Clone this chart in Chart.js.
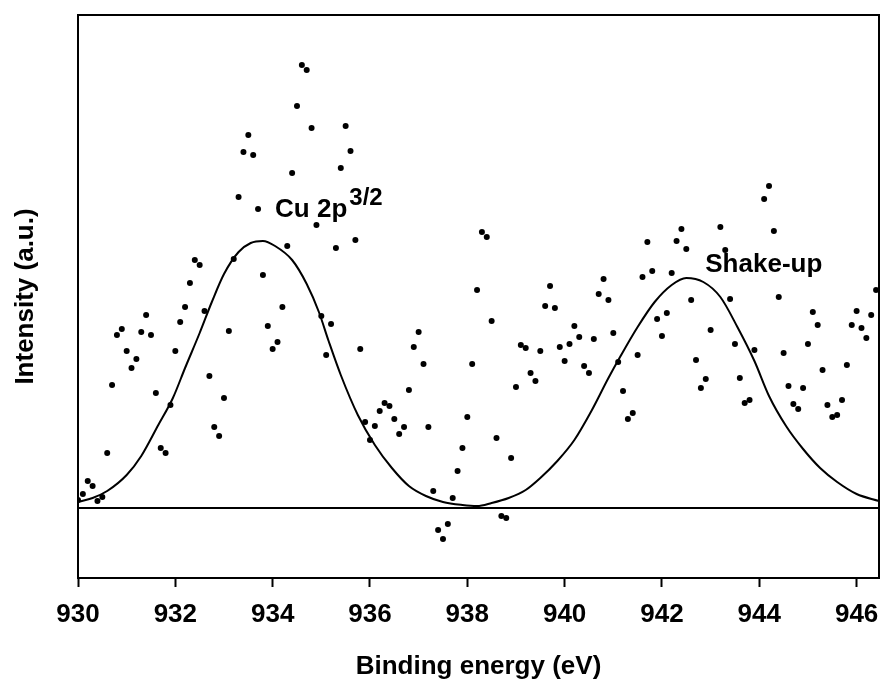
<!DOCTYPE html>
<html>
<head>
<meta charset="utf-8">
<script src="https://cdn.jsdelivr.net/npm/chart.js@4.4.0/dist/chart.umd.min.js"></script>
<style>
  body { margin: 0; background: #fff; }
  canvas { display: block; }
</style>
</head>
<body>
<canvas id="xps" width="880" height="684"></canvas>
<script>
/* measured spectrum (binding energy in eV, intensity in a.u.) */
const energy = [
  930.0, 930.1, 930.2, 930.3, 930.4, 930.5, 930.6, 930.7, 930.8, 930.9,
  931.0, 931.1, 931.2, 931.3, 931.4, 931.5, 931.6, 931.7, 931.8, 931.9,
  932.0, 932.1, 932.2, 932.3, 932.4, 932.5, 932.6, 932.7, 932.8, 932.9,
  933.0, 933.1, 933.2, 933.3, 933.4, 933.5, 933.6, 933.7, 933.8, 933.9,
  934.0, 934.1, 934.2, 934.3, 934.4, 934.5, 934.6, 934.7, 934.8, 934.9,
  935.0, 935.1, 935.2, 935.3, 935.4, 935.5, 935.6, 935.7, 935.8, 935.9,
  936.0, 936.1, 936.2, 936.3, 936.4, 936.5, 936.6, 936.7, 936.8, 936.9,
  937.0, 937.1, 937.2, 937.3, 937.4, 937.5, 937.6, 937.7, 937.8, 937.9,
  938.0, 938.1, 938.2, 938.3, 938.4, 938.5, 938.6, 938.7, 938.8, 938.9,
  939.0, 939.1, 939.2, 939.3, 939.4, 939.5, 939.6, 939.7, 939.8, 939.9,
  940.0, 940.1, 940.2, 940.3, 940.4, 940.5, 940.6, 940.7, 940.8, 940.9,
  941.0, 941.1, 941.2, 941.3, 941.4, 941.5, 941.6, 941.7, 941.8, 941.9,
  942.0, 942.1, 942.2, 942.3, 942.4, 942.5, 942.6, 942.7, 942.8, 942.9,
  943.0, 943.2, 943.3, 943.4, 943.5, 943.6, 943.7, 943.8, 943.9,
  944.1, 944.2, 944.3, 944.4, 944.5, 944.6, 944.7, 944.8, 944.9,
  945.0, 945.1, 945.2, 945.3, 945.4, 945.5, 945.6, 945.7, 945.8, 945.9,
  946.0, 946.1, 946.2, 946.3, 946.4, 946.5
];
const intensity = [
  8, 14, 27, 22, 7, 11, 55, 123, 173, 179,
  157, 140, 149, 176, 193, 173, 115, 60, 55, 103,
  157, 186, 201, 225, 248, 243, 197, 132, 81, 72,
  110, 177, 249, 311, 356, 373, 353, 299, 233, 182,
  159, 166, 201, 262, 335, 402, 443, 438, 380, 283,
  192, 153, 184, 260, 340, 382, 357, 268, 159, 86,
  68, 82, 97, 105, 102, 89, 74, 81, 118, 161,
  176, 144, 81, 17, -22, -31, -16, 10, 37, 60,
  91, 144, 218, 276, 271, 187, 70, -8, -10, 50,
  121, 163, 160, 135, 127, 157, 202, 222, 200, 161,
  147, 164, 182, 171, 142, 135, 169, 214, 229, 208,
  175, 146, 117, 89, 95, 153, 231, 266, 237, 189,
  172, 195, 235, 267, 279, 259, 208, 148, 120, 129,
  178, 281, 258, 209, 164, 130, 105, 108, 158,
  309, 322, 277, 211, 155, 122, 104, 99, 120,
  164, 196, 183, 138, 103, 91, 93, 108, 143, 183,
  197, 180, 170, 193, 218, 183
];

/* fitted envelope (Cu 2p3/2 + shake-up) */
const fitEnergy = [
  930.0, 930.3, 930.6, 931.0, 931.3, 931.65, 931.95, 932.2, 932.5, 932.75,
  933.0, 933.3, 933.55, 933.8, 934.05, 934.4, 934.7, 934.95, 935.15, 935.4,
  935.75, 936.1, 936.45, 936.8, 937.15, 937.5, 937.9, 938.2, 938.5, 938.85,
  939.2, 939.5, 939.85, 940.2, 940.55, 940.9, 941.15, 941.5, 941.85, 942.2,
  942.5, 942.85, 943.2, 943.55, 943.9, 944.2, 944.55, 944.9, 945.25, 945.6,
  946.0, 946.46
];
const fitIntensity = [
  6, 10, 17, 33, 52, 83, 110, 140, 175, 206,
  234, 256, 265, 267, 262, 248, 224, 196, 167, 133,
  93, 63, 40, 22, 12, 6, 3, 2, 5, 10,
  18, 30, 47, 68, 97, 130, 152, 181, 206, 223,
  230, 226, 211, 181, 147, 112, 82, 59, 40, 26,
  14, 7
];

/* background line */
const baseEnergy = [930, 946.46];
const baseIntensity = [0, 0];

const xTickValues = [930, 932, 934, 936, 938, 940, 942, 944, 946];

const toPoints = (xs, ys) => xs.map((x, i) => ({ x: x, y: ys[i] }));

const FONT = '"Liberation Sans", Arial, sans-serif';

const framePlugin = {
  id: 'frame',
  afterDraw(chart) {
    const { ctx, chartArea: a, scales: { x, y } } = chart;
    ctx.save();
    ctx.strokeStyle = '#000';
    ctx.lineWidth = 2;
    ctx.strokeRect(a.left, a.top, a.right - a.left, a.bottom - a.top);

    ctx.fillStyle = '#000';
    ctx.textBaseline = 'alphabetic';
    ctx.font = 'bold 26px ' + FONT;
    const cuX = x.getPixelForValue(934.05);
    const cuY = y.getPixelForValue(291);
    ctx.fillText('Cu 2p', cuX, cuY);
    const w = ctx.measureText('Cu 2p').width;
    ctx.font = 'bold 24px ' + FONT;
    ctx.fillText('3/2', cuX + w + 2, cuY - 12);

    ctx.font = 'bold 26px ' + FONT;
    ctx.fillText('Shake-up', x.getPixelForValue(942.89), y.getPixelForValue(236));
    ctx.restore();
  }
};

new Chart(document.getElementById('xps'), {
  type: 'scatter',
  data: {
    datasets: [
      {
        data: toPoints(energy, intensity),
        backgroundColor: '#000',
        borderColor: '#000',
        borderWidth: 0,
        pointRadius: 3,
        order: 1
      },
      {
        type: 'line',
        data: toPoints(fitEnergy, fitIntensity),
        borderColor: '#000',
        borderWidth: 2,
        pointRadius: 0,
        fill: false,
        cubicInterpolationMode: 'monotone',
        order: 2
      },
      {
        type: 'line',
        data: toPoints(baseEnergy, baseIntensity),
        borderColor: '#000',
        borderWidth: 2,
        pointRadius: 0,
        fill: false,
        order: 3
      }
    ]
  },
  options: {
    responsive: false,
    animation: false,
    layout: { autoPadding: false, padding: { left: 0, right: 1, top: 15, bottom: 0 } },
    plugins: { legend: { display: false }, tooltip: { enabled: false } },
    scales: {
      x: {
        type: 'linear',
        min: 930,
        max: 946.46,
        afterBuildTicks: (scale) => { scale.ticks = xTickValues.map(v => ({ value: v })); },
        afterFit: (scale) => {
          scale.height = 106;
          scale.paddingLeft = 0;
          scale.paddingRight = 0;
        },
        grid: { drawOnChartArea: false, drawTicks: true, tickLength: 9, color: '#000', tickWidth: 2 },
        border: { display: true, color: '#000', width: 2 },
        ticks: { color: '#000', padding: 12, font: { family: FONT, size: 26, weight: 'bold' } },
        title: {
          display: true,
          text: 'Binding energy (eV)',
          color: '#000',
          padding: { top: 0, bottom: 2 },
          font: { family: FONT, size: 26, weight: 'bold' }
        }
      },
      y: {
        min: -70,
        max: 493,
        afterFit: (scale) => {
          scale.width = 78;
          scale.paddingTop = 0;
          scale.paddingBottom = 0;
        },
        grid: { display: false },
        border: { display: true, color: '#000', width: 2 },
        ticks: { display: false },
        title: {
          display: true,
          text: 'Intensity (a.u.)',
          color: '#000',
          padding: { top: 10, bottom: 0 },
          font: { family: FONT, size: 26, weight: 'bold' }
        }
      }
    }
  },
  plugins: [framePlugin]
});
</script>
</body>
</html>
